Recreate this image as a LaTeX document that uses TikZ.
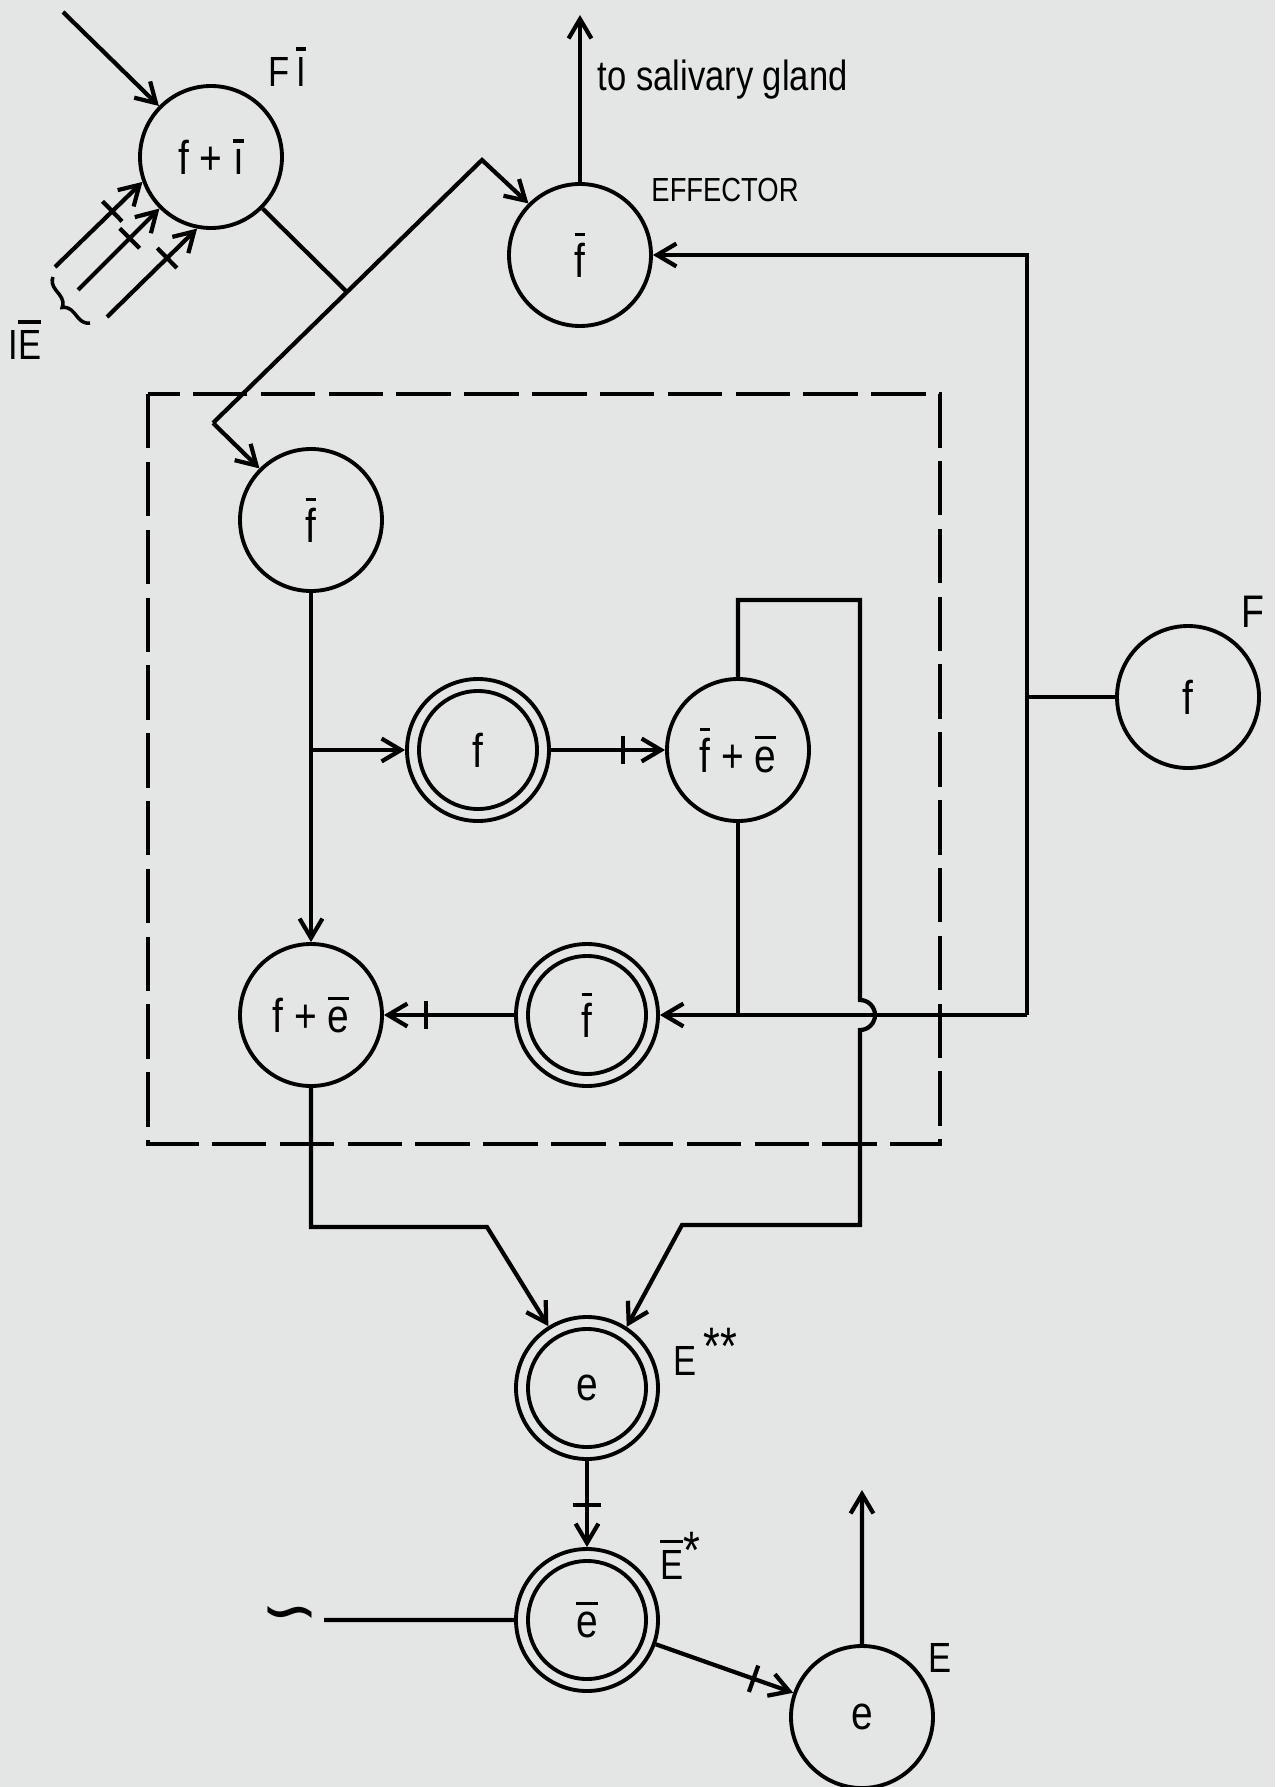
\documentclass[tikz,border=0pt]{standalone}
\usepackage{fontspec}
\setmainfont{Liberation Sans}[FakeStretch=0.82]
\newfontfamily\symfont{DejaVu Sans}
\usepackage{tikz}
\usetikzlibrary{positioning,arrows.meta,decorations.markings,decorations.pathreplacing}
\definecolor{paper}{RGB}{228,229,229}
\newcommand{\ovl}[1]{\leavevmode\vbox{\hrule height 0.9pt\kern 2pt\hbox{#1}}}

\tikzset{
  unit/.style={draw, circle, line width=1.1pt, minimum size=1.42cm, inner sep=0pt, font=\fontsize{13.5}{15}\selectfont},
  dunit/.style={unit, path picture={\draw[line width=1.1pt] (path picture bounding box.center) circle (0.59cm);}},
  wire/.style={line width=1.2pt},
  arr/.style={wire, -{Straight Barb[length=5.5pt,width=6.5pt]}},
  blk/.style={postaction={decorate, decoration={markings, mark=at position -0.42cm with {\draw[-, line width=1.2pt] (0,-0.14cm) -- (0,0.14cm);}}}},
  lbl/.style={font=\fontsize{12}{14}\selectfont, inner sep=0pt},
}

\begin{document}
\begin{tikzpicture}[node distance=2.0cm, on grid]
            \fill[paper] (0,0) rectangle (12.75,-17.87);
            \useasboundingbox (0,0) rectangle (12.75,-17.87);

            % Nodes
            \node[unit] (fi) at (2.11,-1.57) {f + \ovl{\i}};
            \node[unit] (eff) at (5.80,-2.55) {\ovl{f}};
            \node[unit] (fb) at (3.11,-5.20) {\ovl{f}};
            \node[dunit, below right=2.30cm and 1.67cm of fb] (ff) {f};
            \node[unit, right=2.60cm of ff] (fe) {\ovl{f} + \ovl{e}};
            \node[unit, below=4.95cm of fb] (fpe) {f + \ovl{e}};
            \node[dunit, right=2.76cm of fpe] (fd) {\ovl{f}};
            \node[unit] (f) at (11.88,-6.97) {f};
            \node[dunit, below=3.73cm of fd] (ess) {e};
            \node[dunit, below=2.32cm of ess] (es) {\ovl{e}};
            \node[unit, below right=0.97cm and 2.75cm of es] (e) {e};

            % Labels
            \node[lbl] (lfi) at (2.87,-0.67) {F\,\ovl{I}};
            \node[lbl] (lie) at (0.25,-3.40) {I\ovl{E}};
            \node[font=\fontsize{9.5}{11}\selectfont, inner sep=0pt] (leff) at (7.25,-1.90) {EFFECTOR};
            \node[font=\fontsize{12}{14}\selectfont, anchor=west, inner sep=0pt] (lgland) at (5.97,-0.80) {to salivary gland};
            \node[font=\fontsize{13}{15}\selectfont, inner sep=0pt] (lf) at (12.53,-6.12) {F};
            \node[lbl] (less) at (7.05,-13.52) {E\,\raisebox{3pt}{\fontsize{15}{15}\selectfont **}};
            \node[lbl] (les) at (6.80,-15.56) {\ovl{E}\raisebox{3pt}{\fontsize{15}{15}\selectfont *}};
            \node[lbl] (le) at (9.40,-16.58) {E};
            \node[font=\symfont\fontsize{20}{20}\selectfont, inner sep=0pt] (sig) at (2.90,-16.20) {∽};

            % Corners
            \coordinate (in) at (0.63,-0.12);
            \coordinate (ie1) at (0.55,-2.67);
            \coordinate (ie2) at (0.78,-2.90);
            \coordinate (ie3) at (1.07,-3.17);
            \coordinate (kink) at (2.13,-4.23);
            \coordinate (apex) at (4.82,-1.60);
            \coordinate (join) at (3.47,-2.92);
            \coordinate (gland) at (5.80,-0.15);
            \coordinate (bus) at (10.27,-2.55);
            \coordinate (loop) at (8.60,-6.00);
            \coordinate (hop) at (8.60,-10.00);
            \coordinate (low) at (8.60,-12.25);
            \coordinate (lowin) at (6.82,-12.25);
            \coordinate (lowleft) at (4.87,-12.27);
            \coordinate (out) at (8.62,-14.90);

            % Box
            \draw[line width=1pt, dash pattern=on 15.5pt off 3.8pt] (1.48,-3.94) rectangle (9.40,-11.44);

            % Edges
            \draw[arr] (in) -- (fi);
            \foreach \p/\a in {ie1/200, ie2/225, ie3/259}
                \draw[arr, blk] (\p) -- (fi.\a);
            \draw[line width=1pt, decorate, decoration={brace, amplitude=0.12cm}] (0.90,-3.23) -- (0.53,-2.77);
            \draw[wire] (fi.-45) -- (join);
            \draw[arr] (kink) -- (apex) -- (eff.135);
            \draw[arr] (kink) -- (fb.135);
            \draw[arr] (eff.north) -- (gland);
            \draw[arr] (bus |- fd) -- (bus) -- (eff);
            \draw[wire] (f) -- (f -| bus);
            \draw[arr] (bus |- fd) -- (fd);
            \draw[wire] (fe.south) -- (fe.south |- fd);
            \draw[arr] (fe.north) |- (loop) -- (hop) arc[start angle=90, end angle=-90, radius=0.15] -- (low) -- (lowin) -- (ess.57);
            \draw[arr] (fpe.south) |- (lowleft) -- (ess.122);
            \draw[arr] (fb) -- (fpe);
            \draw[arr] (fb |- ff) -- (ff);
            \draw[arr, blk] (ff) -- (fe);
            \draw[arr, blk] (fd) -- (fpe);
            \draw[arr, blk] (ess) -- (es);
            \draw[arr, blk] (es) -- (e);
            \draw[arr] (e) -- (out);
            \draw[wire, shorten <=0.04cm] (sig) -- (es);

        \end{tikzpicture}
\end{document}
